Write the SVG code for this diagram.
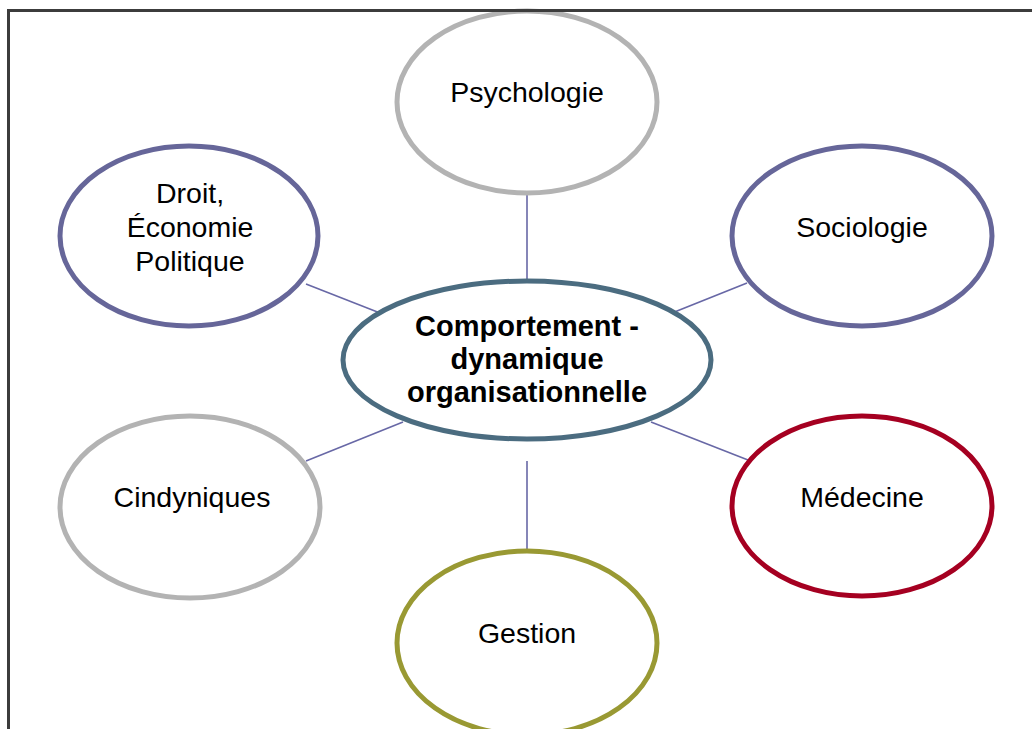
<svg xmlns="http://www.w3.org/2000/svg" width="1032" height="729" viewBox="0 0 1032 729">
<style>
.n{fill:#fff;stroke-width:5}
.t{font-family:"Liberation Sans",Arial,sans-serif;font-size:28.5px;fill:#000;text-anchor:middle}
.b{font-weight:bold;font-size:29px}
.c{stroke:#6868a6;stroke-width:1.6;fill:none}
</style>
<rect width="1032" height="729" fill="#fff"/>
<g id="connectors">
<line class="c" x1="527" y1="194" x2="527" y2="281"/>
<line class="c" x1="527" y1="461" x2="527" y2="550"/>
<line class="c" x1="306" y1="284" x2="380" y2="313"/>
<line class="c" x1="747" y1="283" x2="672" y2="313"/>
<line class="c" x1="306" y1="461" x2="403" y2="422"/>
<line class="c" x1="748" y1="460" x2="651" y2="422"/>
</g>
<g id="psychologie">
<ellipse class="n" cx="527" cy="102" rx="130" ry="91" stroke="#b3b3b3"/>
<text class="t" x="527" y="102">Psychologie</text>
</g>
<g id="droit">
<ellipse class="n" cx="189" cy="236" rx="129" ry="90" stroke="#666699"/>
<text class="t" x="190" y="203">Droit,</text>
<text class="t" x="190" y="237">Économie</text>
<text class="t" x="190" y="271">Politique</text>
</g>
<g id="sociologie">
<ellipse class="n" cx="862" cy="236" rx="130" ry="90" stroke="#666699"/>
<text class="t" x="862" y="237">Sociologie</text>
</g>
<g id="centre">
<ellipse class="n" cx="527" cy="360" rx="184" ry="79" stroke="#4b6c80" stroke-width="5.5"/>
<text class="t b" x="527" y="336">Comportement -</text>
<text class="t b" x="527" y="369">dynamique</text>
<text class="t b" x="527" y="402">organisationnelle</text>
</g>
<g id="cindyniques">
<ellipse class="n" cx="190" cy="507" rx="130" ry="91" stroke="#b3b3b3"/>
<text class="t" x="192" y="507">Cindyniques</text>
</g>
<g id="medecine">
<ellipse class="n" cx="862" cy="506" rx="130" ry="90" stroke="#a50021"/>
<text class="t" x="862" y="507">Médecine</text>
</g>
<g id="gestion">
<ellipse class="n" cx="527" cy="643" rx="130" ry="92" stroke="#999933"/>
<text class="t" x="527" y="643">Gestion</text>
</g>
<g id="frame" stroke="#3c3c3c" stroke-width="3" fill="none">
<line x1="7" y1="10.5" x2="1032" y2="10.5"/>
<line x1="8.5" y1="9" x2="8.5" y2="729"/>
</g>
</svg>
